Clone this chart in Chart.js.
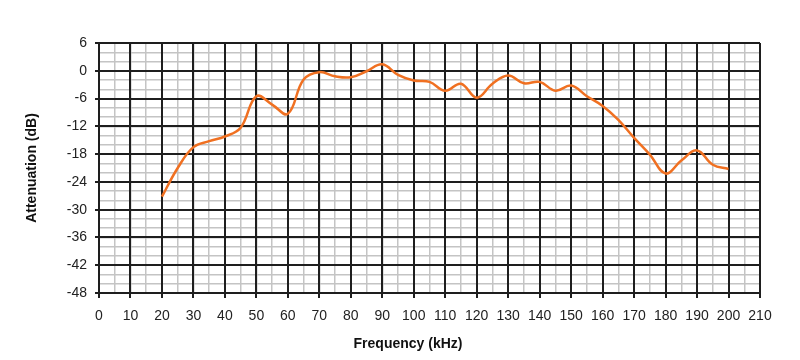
<!DOCTYPE html>
<html>
<head>
<meta charset="utf-8">
<script src="https://cdn.jsdelivr.net/npm/chart.js@4/dist/chart.umd.min.js"></script>
<style>
html,body{margin:0;padding:0;background:#fff;}
#wrap{width:800px;height:360px;}
</style>
</head>
<body>
<div id="wrap"><canvas id="c" width="800" height="360"></canvas></div>
<script>
const frequencies = [20,25,30,35,40,45,50,55,60,65,70,75,80,85,90,95,100,105,110,115,120,125,130,135,140,145,150,155,160,165,170,175,180,185,190,195,200];
const attenuation = [-27.2,-21,-16.5,-15.2,-14.2,-12.3,-5.5,-7.3,-9.3,-1.9,-0.3,-1.2,-1.4,-0.1,1.4,-0.9,-2.1,-2.4,-4.3,-2.8,-5.8,-2.8,-1.0,-2.7,-2.4,-4.3,-3.2,-5.5,-7.6,-10.6,-14.5,-18.1,-22.2,-19.4,-17.2,-20.3,-21.2];
const xMin = 0, xMax = 210, xStep = 10, xMinorStep = 5;
const yMin = -48, yMax = 6, yStep = 6, yMinorStep = 2;
const xTitle = 'Frequency (kHz)';
const yTitle = 'Attenuation (dB)';

const points = frequencies.map((f, i) => ({x: f, y: attenuation[i]}));
const tickFont = {family: "'Liberation Sans', Arial, sans-serif", size: 14};
const titleFont = {family: "'Liberation Sans', Arial, sans-serif", size: 14, weight: 'bold'};

new Chart(document.getElementById('c'), {
  type: 'line',
  data: {
    datasets: [{
      data: points,
      borderColor: '#F07021',
      borderWidth: 2.5,
      pointRadius: 0,
      tension: 0.4,
      fill: false,
      xAxisID: 'x',
      yAxisID: 'y'
    }]
  },
  options: {
    responsive: false,
    animation: false,
    devicePixelRatio: 1,
    layout: {padding: {left: 16, right: 0, top: 43, bottom: 0}},
    plugins: {
      legend: {display: false},
      tooltip: {enabled: false},
      title: {
        display: true,
        position: 'bottom',
        text: xTitle,
        color: '#111',
        font: titleFont,
        padding: {top: 2, bottom: 7}
      }
    },
    scales: {
      x: {
        type: 'linear', position: 'bottom', min: xMin, max: xMax,
        ticks: {stepSize: xStep, color: '#222', font: tickFont, padding: 10, maxRotation: 0, autoSkip: false},
        grid: {color: '#1e1e1e', lineWidth: 2, tickLength: 5, z: 0},
        border: {display: true, color: '#1e1e1e', width: 2},
        afterFit: s => { s.height = 41.2; }
      },
      xm: {
        type: 'linear', position: 'bottom', min: xMin, max: xMax,
        ticks: {stepSize: xMinorStep, display: false},
        grid: {color: '#c4c4c4', lineWidth: 1.5, drawTicks: false, z: -1},
        border: {display: false},
        afterFit: s => { s.height = 0; }
      },
      y: {
        type: 'linear', position: 'left', min: yMin, max: yMax,
        ticks: {stepSize: yStep, color: '#222', font: tickFont, padding: 8},
        grid: {color: '#1e1e1e', lineWidth: 2, tickLength: 4, z: 0},
        border: {display: true, color: '#1e1e1e', width: 2},
        title: {display: true, text: yTitle, color: '#111', font: titleFont, padding: {top: 8, bottom: 0}},
        afterFit: s => { s.width = 83; }
      },
      ym: {
        type: 'linear', position: 'right', min: yMin, max: yMax,
        ticks: {stepSize: yMinorStep, display: false},
        grid: {color: '#c4c4c4', lineWidth: 1.5, drawTicks: false, z: -1},
        border: {display: false},
        afterFit: s => { s.width = 40; }
      }
    }
  }
});
</script>
</body>
</html>
